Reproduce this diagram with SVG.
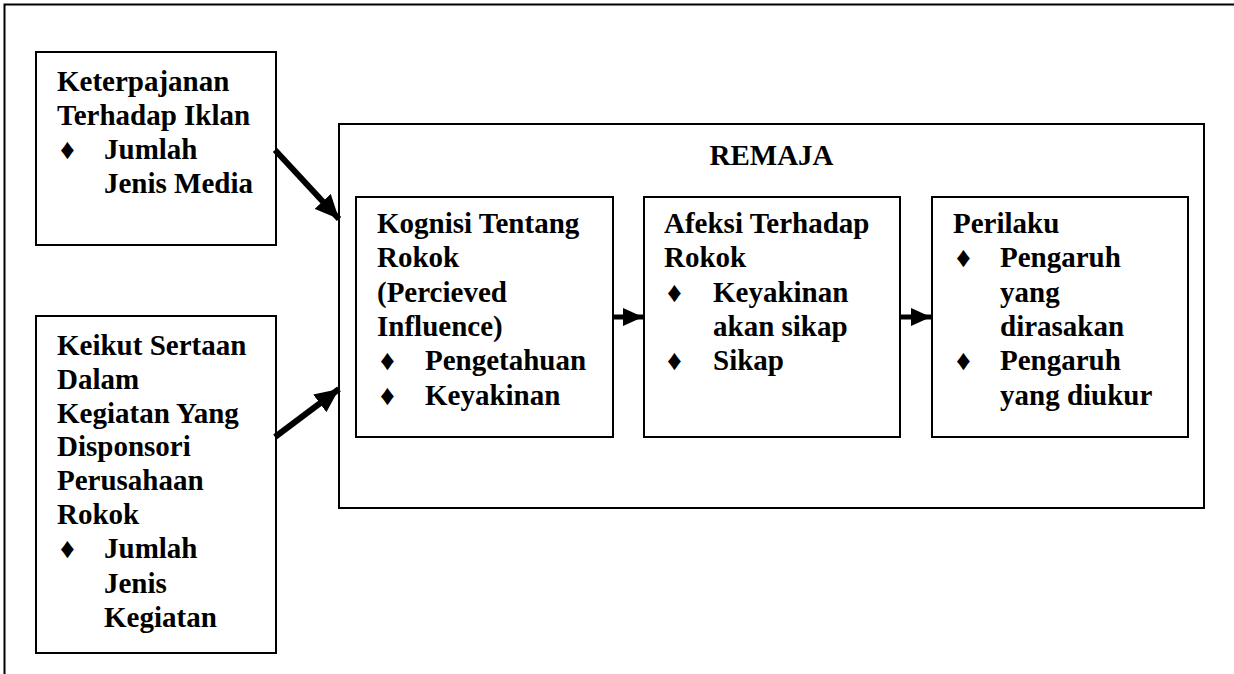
<svg xmlns="http://www.w3.org/2000/svg" width="1234" height="674" viewBox="0 0 1234 674">
<style>
.box{fill:none;stroke:#000;stroke-width:2}
.t{font-family:"Liberation Serif","Times New Roman",serif;font-weight:bold;font-size:29px;fill:#000}
.conn{stroke:#000;stroke-width:5;fill:none}
.diag{stroke-width:6}
</style>
<defs>
<marker id="ah" markerUnits="userSpaceOnUse" markerWidth="22" markerHeight="18" refX="20" refY="9" orient="auto">
<path d="M0,0 L20,9 L0,18 Z" fill="#000"/>
</marker>
<marker id="ahd" markerUnits="userSpaceOnUse" markerWidth="26" markerHeight="22" refX="24" refY="11" orient="auto">
<path d="M0,0 L24,11 L0,22 Z" fill="#000"/>
</marker>
</defs>
<rect width="1234" height="674" fill="#fff"/>
<g id="frame">
<path d="M4.5,680 L4.5,4.5 L1240,4.5" fill="none" stroke="#000" stroke-width="2"/>
</g>
<g id="iklan">
<rect class="box" x="36" y="52" width="240" height="193"/>
<text class="t" x="57" y="91">Keterpajanan</text>
<text class="t" x="57" y="125">Terhadap Iklan</text>
<text class="t" x="60" y="159">♦</text>
<text class="t" x="104" y="159">Jumlah</text>
<text class="t" x="104" y="193">Jenis Media</text>
</g>
<g id="keikut">
<rect class="box" x="36" y="316" width="240" height="337"/>
<text class="t" x="57" y="355">Keikut Sertaan</text>
<text class="t" x="57" y="389">Dalam</text>
<text class="t" x="57" y="423">Kegiatan Yang</text>
<text class="t" x="57" y="456">Disponsori</text>
<text class="t" x="57" y="490">Perusahaan</text>
<text class="t" x="57" y="524">Rokok</text>
<text class="t" x="60" y="558">♦</text>
<text class="t" x="104" y="558">Jumlah</text>
<text class="t" x="104" y="593">Jenis</text>
<text class="t" x="104" y="627">Kegiatan</text>
</g>
<g id="remaja">
<rect class="box" x="339" y="124" width="865" height="384"/>
<text class="t" x="771.5" y="165" text-anchor="middle">REMAJA</text>
</g>
<g id="kognisi">
<rect class="box" x="356" y="197" width="257" height="240"/>
<text class="t" x="377" y="233">Kognisi Tentang</text>
<text class="t" x="377" y="267">Rokok</text>
<text class="t" x="377" y="302">(Percieved</text>
<text class="t" x="377" y="336">Influence)</text>
<text class="t" x="380" y="370">♦</text>
<text class="t" x="425" y="370">Pengetahuan</text>
<text class="t" x="380" y="405">♦</text>
<text class="t" x="425" y="405">Keyakinan</text>
</g>
<g id="afeksi">
<rect class="box" x="644" y="197" width="256" height="240"/>
<text class="t" x="664" y="233">Afeksi Terhadap</text>
<text class="t" x="664" y="267">Rokok</text>
<text class="t" x="667" y="302">♦</text>
<text class="t" x="713" y="302">Keyakinan</text>
<text class="t" x="713" y="336">akan sikap</text>
<text class="t" x="667" y="370">♦</text>
<text class="t" x="713" y="370">Sikap</text>
</g>
<g id="perilaku">
<rect class="box" x="932" y="197" width="256" height="240"/>
<text class="t" x="953" y="233">Perilaku</text>
<text class="t" x="956" y="267">♦</text>
<text class="t" x="1000" y="267">Pengaruh</text>
<text class="t" x="1000" y="302">yang</text>
<text class="t" x="1000" y="336">dirasakan</text>
<text class="t" x="956" y="370">♦</text>
<text class="t" x="1000" y="370">Pengaruh</text>
<text class="t" x="1000" y="405">yang diukur</text>
</g>
<g id="connectors">
<line class="conn diag" x1="275" y1="150" x2="339" y2="219" marker-end="url(#ahd)"/>
<line class="conn diag" x1="275" y1="437" x2="339" y2="389" marker-end="url(#ahd)"/>
<line class="conn" x1="613" y1="317" x2="643" y2="317" marker-end="url(#ah)"/>
<line class="conn" x1="900" y1="317" x2="931" y2="317" marker-end="url(#ah)"/>
</g>
</svg>
